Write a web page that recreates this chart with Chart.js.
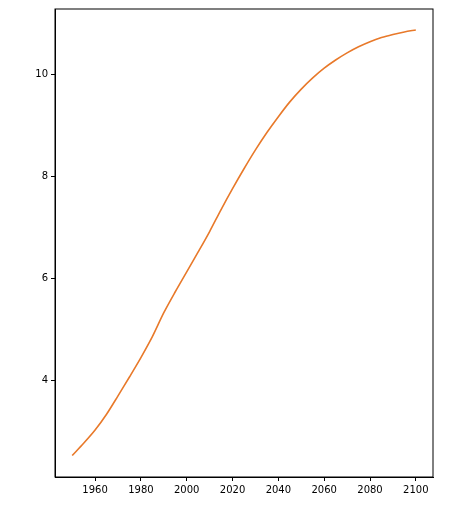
<!DOCTYPE html>
<html><head><script src="https://cdn.jsdelivr.net/npm/chart.js@4"></script>
<style>html,body{margin:0;padding:0;background:#fff}#w{width:474px;height:505px}</style></head>
<body><div id="w"><canvas id="c"></canvas></div>
<script>
const years=[1950,1955,1960,1965,1970,1975,1980,1985,1990,1995,2000,2005,2010,2015,2020,2025,2030,2035,2040,2045,2050,2055,2060,2065,2070,2075,2080,2085,2090,2095,2100];
const population=[2.53,2.77,3.03,3.34,3.70,4.07,4.45,4.86,5.33,5.74,6.13,6.52,6.92,7.35,7.76,8.15,8.52,8.86,9.17,9.46,9.71,9.93,10.12,10.28,10.42,10.54,10.64,10.72,10.78,10.83,10.87];
const xTicks=[1960,1980,2000,2020,2040,2060,2080,2100];
const yTicks=[4,6,8,10];
const frame={id:'frame',afterDraw(c){const a=c.chartArea,x=c.ctx;x.save();x.strokeStyle='#000';x.lineWidth=1;x.strokeRect(a.left,a.top,a.right-a.left,a.bottom-a.top);x.restore();}};
new Chart(document.getElementById('c'),{type:'line',
data:{datasets:[{data:years.map((y,i)=>({x:y,y:population[i]})),borderColor:'#e8792a',borderWidth:1.6,pointRadius:0,tension:0.3}]},
options:{responsive:true,maintainAspectRatio:false,animation:false,
layout:{padding:{top:-3,right:41,left:0,bottom:0}},
plugins:{legend:{display:false},tooltip:{enabled:false}},
scales:{
x:{type:'linear',min:1942.5,max:2107.5,afterFit(s){s.height=28;},afterBuildTicks(s){s.ticks=xTicks.map(v=>({value:v}));},
grid:{drawOnChartArea:false,tickLength:4,color:'#000'},border:{color:'#000'},ticks:{color:'#000',font:{family:'DejaVu Sans',size:10},maxRotation:0,callback:v=>String(v)}},
y:{min:2.11,max:11.28,afterFit(s){s.width=55;},afterBuildTicks(s){s.ticks=yTicks.map(v=>({value:v}));},
grid:{drawOnChartArea:false,tickLength:4,color:'#000'},border:{color:'#000'},ticks:{color:'#000',font:{family:'DejaVu Sans',size:10},callback:v=>String(v)}}}},
plugins:[frame]});
</script></body></html>
